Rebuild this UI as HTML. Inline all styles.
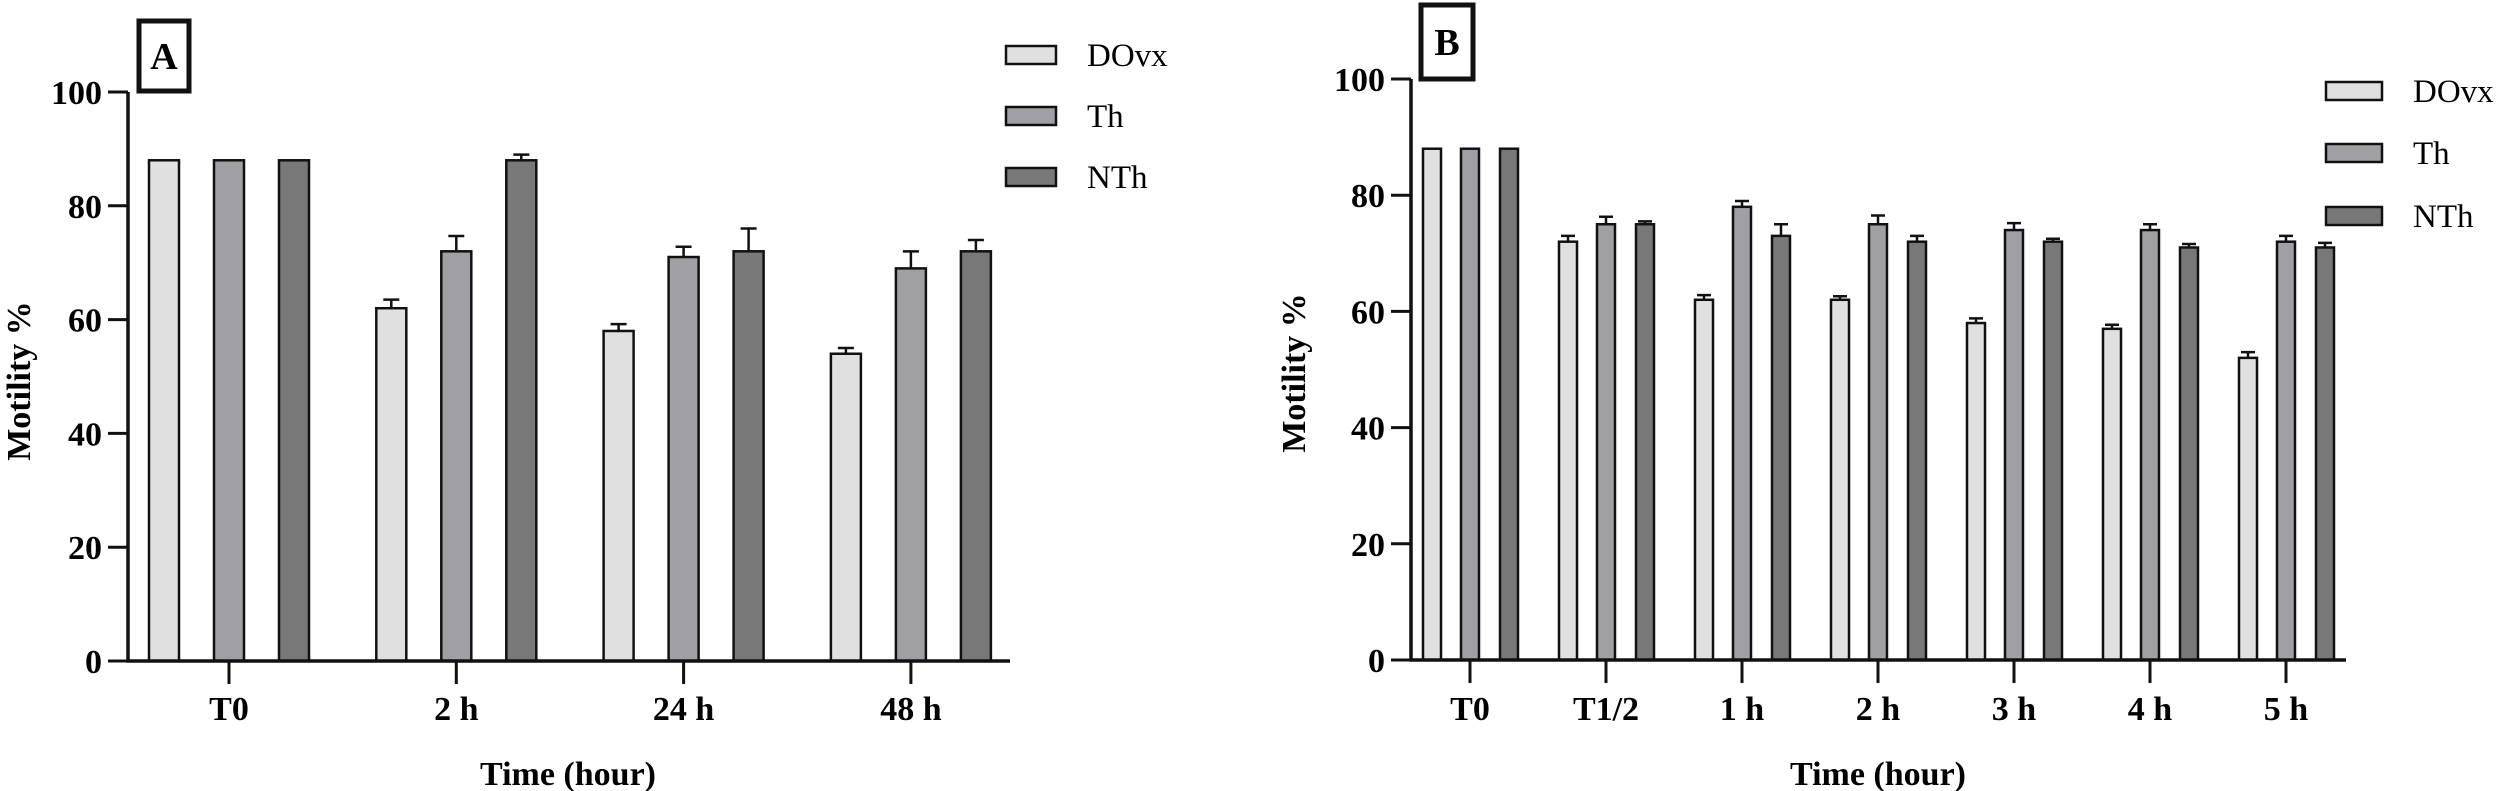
<!DOCTYPE html>
<html><head><meta charset="utf-8"><style>
html,body{margin:0;padding:0;background:#fff;}
svg{display:block;font-family:"Liberation Serif",serif;}
</style></head><body>
<svg id="chart" width="2500" height="791" viewBox="0 0 2500 791" xmlns="http://www.w3.org/2000/svg"></svg>
<script>
const seriesNames = ["DOvx","Th","NTh"];
const seriesColors = ["#e0e0e0","#a0a0a4","#787878"];
const yTicks = [0,20,40,60,80,100];
// Panel A
const catsA = ["T0","2 h","24 h","48 h"];
const dovxA = [88,62,58,54];
const dovxErrA = [0,1.5,1.2,1];
const thA = [88,72,71,69];
const thErrA = [0,2.7,1.8,3];
const nthA = [88,88,72,72];
const nthErrA = [0,1,4,2];
// Panel B
const catsB = ["T0","T1/2","1 h","2 h","3 h","4 h","5 h"];
const dovxB = [88,72,62,62,58,57,52];
const dovxErrB = [0,1,0.8,0.6,0.8,0.7,1];
const thB = [88,75,78,75,74,74,72];
const thErrB = [0,1.3,1,1.5,1.2,1,1];
const nthB = [88,75,73,72,72,71,71];
const nthErrB = [0,0.5,2,1,0.5,0.6,0.8];

const svg = document.getElementById('chart');
const NS = "http://www.w3.org/2000/svg";
function mk(tag, attrs, parent){
  const e = document.createElementNS(NS, tag);
  for (const k in attrs) e.setAttribute(k, attrs[k]);
  (parent||svg).appendChild(e);
  return e;
}
function panel(p){
  const g = mk('g',{});
  
  
  const y = v => p.y0 - (p.y0 - p.y100) * v / 100;
  const x = i => p.c0 + i * p.step;
  // bars
  p.series.forEach((s, si) => {
    s.vals.forEach((v, i) => {
      const cx = x(i) + p.offsets[si];
      const r = mk('rect',{x:cx-p.bw/2,y:y(v),width:p.bw,height:p.y0-y(v),fill:seriesColors[si],stroke:'#111','stroke-width':2.5}, g);
      
      
      const e = s.errs[i];
      if (e > 0) {
        const eb = mk('path',{d:`M${cx} ${y(v)} V${y(v+e)} M${cx-p.cap} ${y(v+e)} H${cx+p.cap}`,stroke:'#111','stroke-width':2.5,fill:'none'}, g);
        
        
      }
    });
  });
  // axes
  const ax = mk('path',{d:`M${p.ax} ${p.y100} V${p.y0} H${p.xEnd}`,stroke:'#111','stroke-width':3.5,fill:'none'}, g);
  
  
  yTicks.forEach(t => {
    mk('line',{x1:p.ax-20,x2:p.ax,y1:y(t),y2:y(t),stroke:'#111','stroke-width':3}, g);
    const tx = mk('text',{x:p.ax-26,y:y(t)+12,'text-anchor':'end','font-size':34,'font-weight':'bold'}, g);
    tx.textContent = t;
    
    
  });
  p.cats.forEach((c, i) => {
    mk('line',{x1:x(i),x2:x(i),y1:p.y0,y2:p.y0+23,stroke:'#111','stroke-width':3}, g);
    const tx = mk('text',{x:x(i),y:720,'text-anchor':'middle','font-size':34,'font-weight':'bold'}, g);
    tx.textContent = c;
    
    
  });
  const xt = mk('text',{x:p.xtX,y:785,'text-anchor':'middle','font-size':34,'font-weight':'bold'}, g);
  xt.textContent = 'Time (hour)';
  
  
  const yt = mk('text',{x:0,y:0,transform:`translate(${p.ytX},${p.ytY}) rotate(-90)`,'text-anchor':'middle','font-size':34,'font-weight':'bold'}, g);
  yt.textContent = 'Motility %';
  
  
  // panel label box
  const bx = mk('rect',{x:p.box[0],y:p.box[1],width:p.box[2],height:p.box[3],fill:'#fff',stroke:'#111','stroke-width':5}, g);
  
  
  const bt = mk('text',{x:p.box[0]+p.box[2]/2,y:p.box[1]+p.box[3]/2+13,'text-anchor':'middle','font-size':38,'font-weight':'bold'}, g);
  bt.textContent = p.id.toUpperCase();
  
  
  // legend
  seriesNames.forEach((n, si) => {
    const ly = p.legY[si];
    const lr = mk('rect',{x:p.legX,y:ly-9,width:p.legW,height:18,fill:seriesColors[si],stroke:'#111','stroke-width':2.5}, g);
    
    
    const lt = mk('text',{x:p.legT,y:ly+11,'font-size':33}, g);
    lt.textContent = n;
    
    
  });
}
panel({id:'a', cats:catsA,
  series:[{vals:dovxA,errs:dovxErrA},{vals:thA,errs:thErrA},{vals:nthA,errs:nthErrA}],
  y0:661, y100:92, ax:128, xEnd:1010, c0:229, step:227.3, offsets:[-65,0,65], bw:30, cap:8,
  xtX:568, ytX:30, ytY:381, box:[139,21,50,70], legX:1006, legW:50, legY:[55,116,177], legT:1087});
panel({id:'b', cats:catsB,
  series:[{vals:dovxB,errs:dovxErrB},{vals:thB,errs:thErrB},{vals:nthB,errs:nthErrB}],
  y0:660, y100:79, ax:1411, xEnd:2346, c0:1470, step:136, offsets:[-38,0,39], bw:18, cap:7,
  xtX:1878, ytX:1305, ytY:373, box:[1421,5,52,74], legX:2326, legW:56, legY:[91,153,216], legT:2413});
</script>
</body></html>
